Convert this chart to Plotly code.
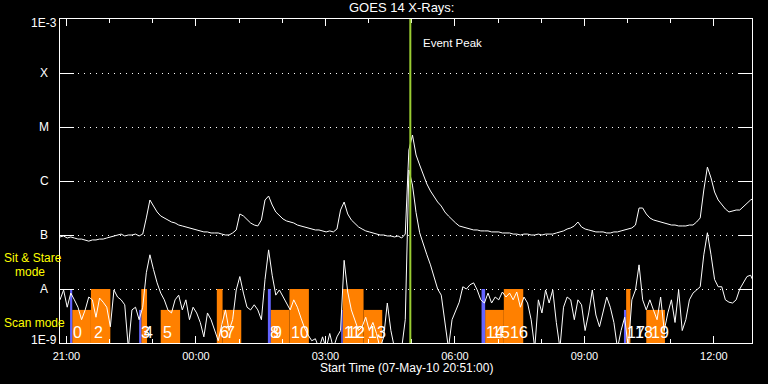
import math
import pandas as pd
import plotly.graph_objects as go

# ---------------- data ----------------
series_start = "2010-05-07 20:51"
cadence = "5min"

# GOES 1-8 A (long channel), W/m^2, every 5 minutes from 20:51
long_flux = [
    9.2e-8, 9.6e-8, 8.8e-8, 9.2e-8, 8.8e-8, 8.4e-8, 8.4e-8, 8.1e-8, 7.7e-8, 8.1e-8,
    8.1e-8, 8.4e-8, 8.4e-8, 8.8e-8, 9.2e-8, 9.6e-8, 1.0e-7, 1.04e-7, 9.6e-8, 1.0e-7,
    1.0e-7, 1.04e-7, 9.6e-8, 1.04e-7, 2.07e-7, 4.45e-7, 3.44e-7, 2.67e-7, 2.25e-7, 2.07e-7,
    1.90e-7, 1.74e-7, 1.67e-7, 1.53e-7, 1.47e-7, 1.41e-7, 1.35e-7, 1.29e-7, 1.24e-7, 1.19e-7,
    1.14e-7, 1.14e-7, 1.09e-7, 1.09e-7, 1.09e-7, 1.04e-7, 1.0e-7, 1.0e-7, 1.09e-7, 1.24e-7,
    2.45e-7, 2.25e-7, 1.90e-7, 1.67e-7, 1.53e-7, 1.47e-7, 1.90e-7, 4.45e-7, 5.27e-7, 3.59e-7,
    2.67e-7, 2.25e-7, 1.98e-7, 1.82e-7, 1.74e-7, 1.67e-7, 1.53e-7, 1.47e-7, 1.41e-7, 1.35e-7,
    1.29e-7, 1.24e-7, 1.24e-7, 1.19e-7, 1.14e-7, 1.19e-7, 1.14e-7, 1.29e-7, 2.9e-7, 4.08e-7,
    2.45e-7, 1.90e-7, 1.60e-7, 1.41e-7, 1.29e-7, 1.19e-7, 1.14e-7, 1.09e-7, 1.04e-7, 1.0e-7,
    1.0e-7, 9.6e-8, 9.6e-8, 9.2e-8, 9.6e-8, 8.8e-8, 1.04e-7, 3.75e-6, 7.11e-6, 3.03e-6,
    1.98e-6, 1.29e-6, 8.8e-7, 6.53e-7, 5.06e-7, 4.08e-7, 3.44e-7, 2.67e-7, 2.25e-7, 1.90e-7,
    1.67e-7, 1.47e-7, 1.41e-7, 1.35e-7, 1.29e-7, 1.24e-7, 1.24e-7, 1.19e-7, 1.19e-7, 1.19e-7,
    1.14e-7, 1.14e-7, 1.14e-7, 1.09e-7, 1.09e-7, 1.09e-7, 1.04e-7, 1.04e-7, 1.0e-7, 1.04e-7,
    1.04e-7, 1.0e-7, 1.0e-7, 1.04e-7, 1.0e-7, 1.04e-7, 1.04e-7, 1.04e-7, 1.09e-7, 1.14e-7,
    1.19e-7, 1.29e-7, 1.35e-7, 1.47e-7, 1.74e-7, 1.41e-7, 1.29e-7, 1.24e-7, 1.19e-7, 1.14e-7,
    1.14e-7, 1.14e-7, 1.09e-7, 1.09e-7, 1.14e-7, 1.14e-7, 1.19e-7, 1.24e-7, 1.29e-7, 1.35e-7,
    1.53e-7, 3.16e-7, 3.16e-7, 2.45e-7, 2.07e-7, 1.90e-7, 1.82e-7, 1.74e-7, 1.67e-7, 1.60e-7,
    1.53e-7, 1.53e-7, 1.47e-7, 1.47e-7, 1.47e-7, 1.53e-7, 1.53e-7, 1.74e-7, 2.07e-7, 6.81e-7,
    1.81e-6, 1.14e-6, 6.25e-7, 4.45e-7, 3.59e-7, 3.03e-7, 2.67e-7, 2.78e-7, 2.90e-7, 2.90e-7,
    3.30e-7, 3.75e-7, 4.45e-7, 4.84e-7,
]

# GOES 0.5-4 A (short channel), W/m^2, same times (8e-10 = below plot floor)
short_flux = [
    6.3e-9, 9.6e-9, 4.6e-9, 8.4e-9, 6.3e-9, 4.6e-9, 2.7e-9, 4.1e-9, 7.1e-9, 6.3e-9,
    3.0e-9, 6.8e-9, 5.7e-9, 4.6e-9, 2.0e-9, 9.6e-9, 7.1e-9, 6.3e-9, 5.1e-9, 8e-10,
    4.1e-9, 4.6e-9, 2.7e-9, 4.6e-9, 2.0e-8, 4.3e-8, 2.3e-8, 1.3e-8, 8.4e-9, 6.3e-9,
    4.1e-9, 3.6e-9, 6.3e-9, 7.7e-9, 4.1e-9, 6.3e-9, 2.7e-9, 4.6e-9, 3.6e-9, 2.4e-9,
    1.3e-9, 3.6e-9, 2.7e-9, 1.7e-9, 1.1e-9, 2.2e-9, 4.1e-9, 1.7e-9, 2.7e-9, 9.6e-9,
    1.7e-8, 8.4e-9, 4.6e-9, 4.1e-9, 5.1e-9, 4.1e-9, 2.7e-9, 1.5e-8, 5.3e-8, 1.8e-8,
    7.7e-9, 9.6e-9, 7.1e-9, 5.5e-9, 4.1e-9, 6.3e-9, 4.6e-9, 2.9e-9, 1.9e-9, 1.4e-9,
    1.1e-9, 1.2e-9, 8e-10, 1.3e-9, 8e-10, 1.5e-9, 8e-10, 1.3e-9, 1.7e-9, 3.4e-8,
    8.8e-9, 4.1e-9, 2.7e-9, 1.7e-9, 2.0e-9, 3.0e-9, 1.7e-9, 2.4e-9, 1.5e-9, 8e-10,
    1.3e-9, 5.5e-9, 1.7e-9, 8e-10, 8e-10, 8e-10, 2.7e-9, 1.6e-6, 8.4e-7, 2.6e-7,
    1.1e-7, 6.5e-8, 4.3e-8, 2.8e-8, 1.7e-8, 1.0e-8, 7.7e-9, 2.7e-9, 8e-10, 2.7e-9,
    4.1e-9, 5.7e-9, 1.1e-8, 1.0e-8, 1.2e-8, 1.3e-8, 9.6e-9, 6.3e-9, 5.5e-9, 8.4e-9,
    5.5e-9, 7.1e-9, 6.3e-9, 8.8e-9, 7.1e-9, 8.4e-9, 6.3e-9, 8.8e-9, 4.6e-9, 7.1e-9,
    5.5e-9, 2.7e-9, 8e-10, 6.3e-9, 3.6e-9, 9.6e-9, 5.5e-9, 9.6e-9, 2.4e-9, 8e-10,
    4.6e-9, 7.1e-9, 6.3e-9, 2.7e-9, 6.3e-9, 5.1e-9, 1.7e-9, 3.6e-9, 9.6e-9, 3.3e-9,
    2.0e-9, 3.6e-9, 7.1e-9, 4.6e-9, 2.4e-9, 8e-10, 1.7e-9, 3.0e-9, 8e-10, 6.3e-9,
    9.6e-9, 2.8e-8, 6.3e-9, 4.1e-9, 6.3e-9, 4.1e-9, 2.7e-9, 7.1e-9, 1.7e-9, 3.6e-9,
    6.3e-9, 2.4e-9, 9.6e-9, 1.7e-9, 2.7e-9, 6.3e-9, 8.4e-9, 9.6e-9, 1.1e-8, 4.3e-8,
    1.1e-7, 4.3e-8, 1.5e-8, 1.1e-8, 1.1e-8, 6.3e-9, 5.7e-9, 5.5e-9, 6.3e-9, 1.0e-8,
    1.3e-8, 1.7e-8, 1.8e-8, 1.3e-8,
]

# Observation blocks
orange_start = ["2010-05-07 21:08", "2010-05-07 21:34", "2010-05-07 22:44", "2010-05-07 23:11",
                "2010-05-08 00:29", "2010-05-08 00:37", "2010-05-08 01:44", "2010-05-08 02:10",
                "2010-05-08 03:24", "2010-05-08 03:53", "2010-05-08 06:42", "2010-05-08 07:08",
                "2010-05-08 09:58", "2010-05-08 10:26"]
orange_end = ["2010-05-07 21:34", "2010-05-07 22:01", "2010-05-07 22:52", "2010-05-07 23:38",
              "2010-05-08 00:37", "2010-05-08 01:03", "2010-05-08 02:10", "2010-05-08 02:37",
              "2010-05-08 03:53", "2010-05-08 04:19", "2010-05-08 07:08", "2010-05-08 07:35",
              "2010-05-08 10:04", "2010-05-08 10:52"]
orange_mode = ["scan", "stare", "stare", "scan", "stare", "scan", "scan", "stare",
               "stare", "scan", "scan", "stare", "stare", "scan"]

blue_start = ["2010-05-07 21:05", "2010-05-07 22:41", "2010-05-08 01:40",
              "2010-05-08 03:22", "2010-05-08 06:37", "2010-05-08 09:55"]
blue_end = ["2010-05-07 21:08", "2010-05-07 22:44", "2010-05-08 01:44",
            "2010-05-08 03:24", "2010-05-08 06:42", "2010-05-08 09:58"]
blue_mode = ["stare", "scan", "stare", "scan", "stare", "scan"]

mode_top = {"stare": 1e-8, "scan": 4.1e-9}
flux_floor = 1e-9

obs_labels = ["0", "2", "3", "4", "5", "6", "7", "8", "9", "10", "11", "12", "13",
              "14", "15", "16", "17", "18", "19"]
obs_label_times = ["2010-05-07 21:06", "2010-05-07 21:35", "2010-05-07 22:41", "2010-05-07 22:45",
                   "2010-05-07 23:11", "2010-05-08 00:30", "2010-05-08 00:39", "2010-05-08 01:40",
                   "2010-05-08 01:44", "2010-05-08 02:09", "2010-05-08 03:23", "2010-05-08 03:27",
                   "2010-05-08 03:56", "2010-05-08 06:40", "2010-05-08 06:49", "2010-05-08 07:14",
                   "2010-05-08 09:57", "2010-05-08 10:08", "2010-05-08 10:30"]

event_peak = "2010-05-08 04:58"
x_range = ["2010-05-07 20:51", "2010-05-08 12:53"]

y_tick_vals = [1e-9, 1e-8, 1e-7, 1e-6, 1e-5, 1e-4, 1e-3]
y_tick_text = ["1E-9", "A", "B", "C", "M", "X", "1E-3"]

# ---------------- figure ----------------
times = pd.date_range(series_start, periods=len(long_flux), freq=cadence)

FONT = "Liberation Sans"
fig = go.Figure()

for s, e, m in zip(orange_start, orange_end, orange_mode):
    top = mode_top[m]
    fig.add_trace(go.Scatter(x=[s, s, e, e, s], y=[flux_floor, top, top, flux_floor, flux_floor],
                             mode="lines", fill="toself", fillcolor="#FF8000",
                             line=dict(width=0, color="#FF8000"), hoverinfo="skip", showlegend=False))
for s, e, m in zip(blue_start, blue_end, blue_mode):
    top = mode_top[m]
    fig.add_trace(go.Scatter(x=[s, s, e, e, s], y=[flux_floor, top, top, flux_floor, flux_floor],
                             mode="lines", fill="toself", fillcolor="#6464FF",
                             line=dict(width=0, color="#6464FF"), hoverinfo="skip", showlegend=False))

fig.add_trace(go.Scatter(x=times, y=long_flux, mode="lines", line=dict(color="white", width=1),
                         showlegend=False, name="1-8 A"))
fig.add_trace(go.Scatter(x=times, y=short_flux, mode="lines", line=dict(color="white", width=1),
                         showlegend=False, name="0.5-4 A"))

fig.add_shape(type="line", x0=event_peak, x1=event_peak, y0=0, y1=1, xref="x", yref="paper",
              line=dict(color="#9ACD32", width=2), layer="above")

ann = []
ann.append(dict(text="GOES 14 X-Rays:", x=0.494, y=1.034, xref="paper", yref="paper",
                xanchor="center", yanchor="middle", showarrow=False,
                font=dict(family=FONT, size=13, color="white")))
ann.append(dict(text="Start Time (07-May-10 20:51:00)", x=0.5, y=-0.077, xref="paper", yref="paper",
                xanchor="center", yanchor="middle", showarrow=False,
                font=dict(family=FONT, size=12, color="white")))
ann.append(dict(text="Event Peak", x=event_peak, y=0.926, xref="x", yref="paper", xshift=11,
                xanchor="left", yanchor="middle", showarrow=False,
                font=dict(family=FONT, size=11.5, color="white")))
for i, (v, t) in enumerate(zip(y_tick_vals, y_tick_text)):
    ys = 0
    if i == 0:
        ys = 3
    elif i == len(y_tick_vals) - 1:
        ys = -4
    ann.append(dict(text=t, x=-0.0231, y=math.log10(v), xref="paper", yref="y", yshift=ys,
                    xanchor="center", yanchor="middle", showarrow=False,
                    font=dict(family=FONT, size=12, color="white")))
ann.append(dict(text="Sit & Stare", x=-0.0838, y=0.262, xref="paper", yref="paper",
                xanchor="left", yanchor="middle", showarrow=False,
                font=dict(family=FONT, size=12, color="#FFFF00")))
ann.append(dict(text="mode", x=-0.0679, y=0.219, xref="paper", yref="paper",
                xanchor="left", yanchor="middle", showarrow=False,
                font=dict(family=FONT, size=12, color="#FFFF00")))
ann.append(dict(text="Scan mode", x=-0.0838, y=0.062, xref="paper", yref="paper",
                xanchor="left", yanchor="middle", showarrow=False,
                font=dict(family=FONT, size=12, color="#FFFF00")))
for lab, t in zip(obs_labels, obs_label_times):
    ann.append(dict(text=lab, x=t, y=0.031, xref="x", yref="paper",
                    xanchor="left", yanchor="middle", showarrow=False,
                    font=dict(family=FONT, size=16, color="white")))

fig.update_layout(
    width=768, height=384, autosize=False,
    margin=dict(l=60, r=16, t=19, b=41),
    paper_bgcolor="black", plot_bgcolor="black",
    showlegend=False,
    annotations=ann,
    xaxis=dict(type="date", range=x_range, showgrid=False, zeroline=False,
               showline=True, linecolor="white", linewidth=1, mirror="allticks",
               ticks="inside", ticklen=7, tickcolor="white", tickwidth=1,
               tick0="2010-05-07 00:00", dtick=3 * 3600 * 1000, tickformat="%H:%M",
               ticklabelstandoff=3,
               tickfont=dict(family=FONT, size=11, color="white"),
               minor=dict(dtick=3600 * 1000, ticks="inside", ticklen=4, tickcolor="white",
                          showgrid=False)),
    yaxis=dict(type="log", range=[-9, -3], showline=True, linecolor="white", linewidth=1,
               mirror="allticks", ticks="inside", ticklen=14, tickcolor="white",
               tickvals=y_tick_vals, showticklabels=False, zeroline=False,
               showgrid=True, gridcolor="white", gridwidth=1, griddash="1px,5px"),
)

# remove the browser's default 8px page margin so the 768x384 figure fills the window
fig.write_html("out.html", config={"displayModeBar": False},
               post_script="document.body.style.margin='0';document.body.style.background='black';")
